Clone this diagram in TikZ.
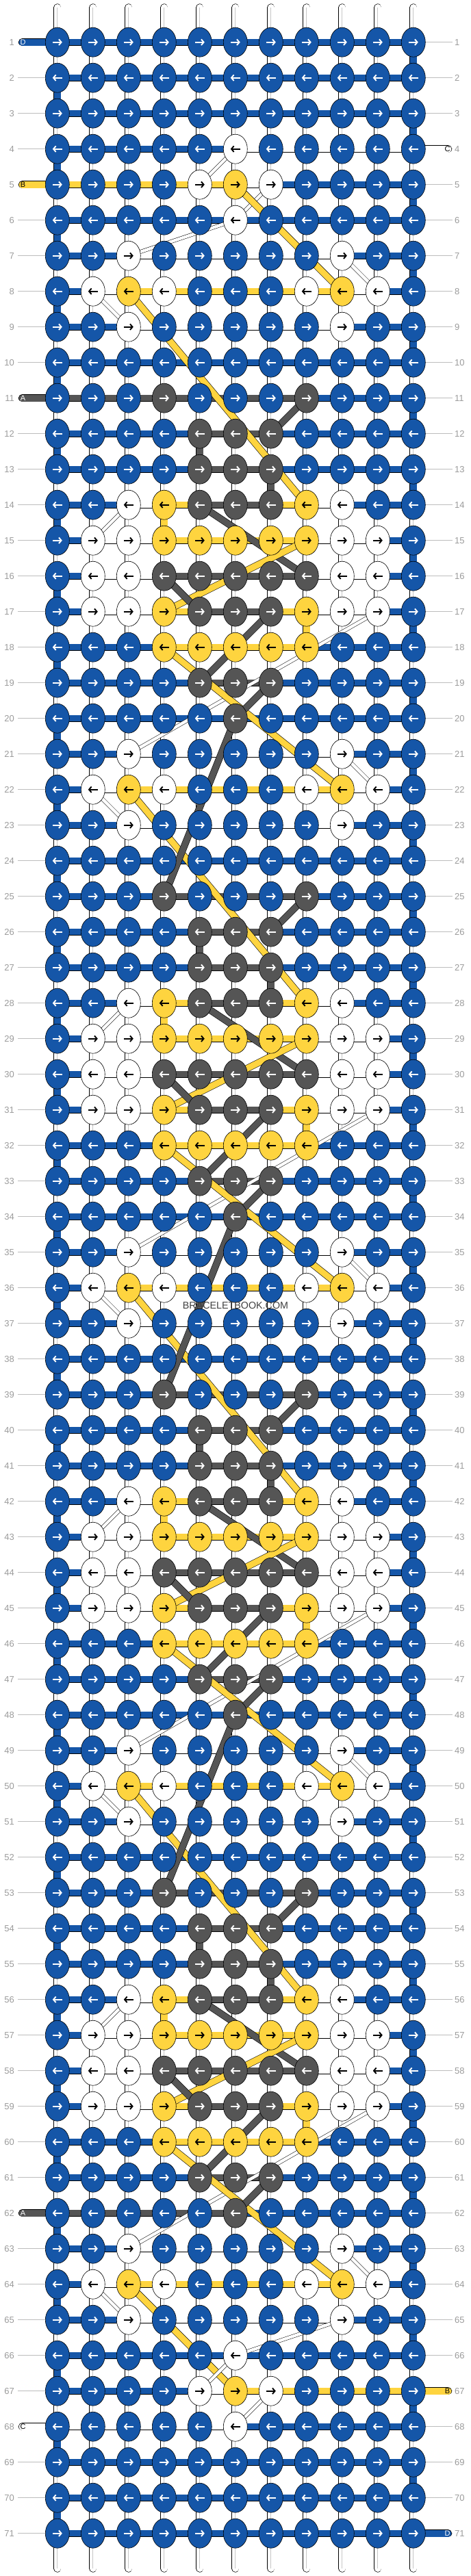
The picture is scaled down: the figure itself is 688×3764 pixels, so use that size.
\documentclass[tikz,border=0pt]{standalone}
\usepackage{fontspec}
\setmainfont{Liberation Sans}
\usetikzlibrary{shapes.geometric,arrows.meta}

\definecolor{colb}{HTML}{1556A8}
\definecolor{coly}{HTML}{FED43F}
\definecolor{colg}{HTML}{555555}
\definecolor{colw}{HTML}{FFFFFF}
\definecolor{arrb}{HTML}{FFFFFF}
\definecolor{arrg}{HTML}{FFFFFF}
\definecolor{arry}{HTML}{000000}
\definecolor{arrw}{HTML}{000000}
\definecolor{labgray}{HTML}{9B9B9B}
\definecolor{linegray}{HTML}{BDBDBD}
\definecolor{markgray}{HTML}{3E3E3E}

\def\krowA{b,b,b,b,b,b,b,b,b,b,b}
\def\krowB{b,b,b,b,b,w,b,b,b,b,b}
\def\krowC{b,b,b,b,w,y,w,b,b,b,b}
\def\krowD{b,b,w,b,b,b,b,b,w,b,b}
\def\krowE{b,w,y,w,b,b,b,w,y,w,b}
\def\krowF{b,b,b,g,b,b,b,g,b,b,b}
\def\krowG{b,b,b,b,g,g,g,b,b,b,b}
\def\krowH{b,b,w,y,g,g,g,y,w,b,b}
\def\krowI{b,w,w,y,y,y,y,y,w,w,b}
\def\krowJ{b,w,w,g,g,g,g,g,w,w,b}
\def\krowK{b,w,w,y,g,g,g,y,w,w,b}
\def\krowL{b,b,b,y,y,y,y,y,b,b,b}
\def\krowM{b,b,b,b,b,g,b,b,b,b,b}

\def\srowA{b,b,b,b,b,b,b,b,b,b}
\def\srowB{b,b,b,b,b,w,w,w,w,w}
\def\srowC{y,y,y,y,y,w,b,b,b,b}
\def\srowD{b,b,w,w,w,w,w,w,b,b}
\def\srowE{b,w,y,y,y,y,y,y,w,b}
\def\srowF{g,g,g,g,g,g,g,b,b,b}
\def\srowG{b,b,b,g,g,g,g,b,b,b}
\def\srowH{b,b,b,b,g,g,b,b,b,b}
\def\srowI{b,b,w,y,g,g,y,w,b,b}
\def\srowJ{b,w,w,y,y,y,y,w,w,b}
\def\srowK{b,w,w,g,g,g,g,w,w,b}
\def\srowL{b,w,w,y,g,g,y,w,w,b}
\def\srowM{b,b,b,y,y,y,y,b,b,b}
\def\srowN{g,g,g,g,g,b,b,b,b,b}
\def\srowO{b,b,b,b,w,y,y,y,y,y}
\def\srowP{w,w,w,w,w,b,b,b,b,b}

\def\rowtable{1/A/A,2/A/A,3/A/A,4/B/B,5/C/C,6/B/A,%
7/D/D,8/E/E,9/D/D,10/A/A,11/F/F,12/G/H,13/G/H,14/H/I,15/I/J,16/J/K,17/K/L,18/L/M,19/G/H,20/M/A,%
21/D/D,22/E/E,23/D/D,24/A/A,25/F/G,26/G/H,27/G/H,28/H/I,29/I/J,30/J/K,31/K/L,32/L/M,33/G/H,34/M/A,%
35/D/D,36/E/E,37/D/D,38/A/A,39/F/G,40/G/H,41/G/H,42/H/I,43/I/J,44/J/K,45/K/L,46/L/M,47/G/H,48/M/A,%
49/D/D,50/E/E,51/D/D,52/A/A,53/F/G,54/G/H,55/G/H,56/H/I,57/I/J,58/J/K,59/K/L,60/L/M,61/G/H,62/M/N,%
63/D/D,64/E/E,65/D/D,66/B/A,67/C/O,68/B/P,69/A/A,70/A/A,71/A/A}

\tikzset{
  knot/.style={ellipse, draw=black, line width=0.6pt, minimum width=35pt, minimum height=43pt, inner sep=0pt},
  karrow/.style={line width=1.9pt, -{Straight Barb[length=3.6pt,width=8.6pt]}},
  band/.style={draw=black, line width=0.6pt, double distance=9pt},
  vseg/.style={draw=black, line width=0.6pt, double=white, double distance=10pt},
  vmid/.style={draw=gray!45, line width=0.7pt},
  diag y/.style={band, double=coly},
  diag g/.style={band, double=colg},
  diag w/.style={draw=black, line width=0.5pt, double=white, double distance=4.5pt},
  tail/.style={band, double distance=10pt, line cap=round},
  tailtag/.style={font=\fontsize{11}{11}\selectfont, inner sep=0pt},
  rowlab/.style={text=labgray, font=\fontsize{13}{13}\selectfont, inner sep=0pt},
  labline/.style={draw=linegray, line width=1pt},
  sitemark/.style={text=markgray, font=\fontsize{14.3}{14.3}\selectfont, inner sep=0pt}
}

\begin{document}
\begin{tikzpicture}[x=1pt,y=-1pt]
\useasboundingbox (0,0) rectangle (688,3764);

\foreach \ri in {1,...,71}{
  \foreach \ci in {1,...,11}{
    \coordinate (p-\ri-\ci) at ({31.8+52*\ci},{9.7+52*\ri});
  }
}

\foreach \ri in {1,...,71}{
  \node[rowlab, anchor=east] (ll-\ri) at (21,{9.7+52*\ri}) {\ri};
  \node[rowlab, anchor=west] (rl-\ri) at (664,{9.7+52*\ri}) {\ri};
  \draw[labline] ([xshift=5pt]ll-\ri.east) -- (p-\ri-1);
  \draw[labline] (p-\ri-11) -- ([xshift=-3pt]rl-\ri.west);
}

\foreach \ci in {1,...,11}{
  \coordinate (top-\ci) at ({31.8+52*\ci},11);
  \coordinate (bot-\ci) at ({31.8+52*\ci},3753);
  \draw[vseg, line cap=round] (top-\ci) -- (p-1-\ci);
  \draw[vmid] (top-\ci) -- (p-1-\ci);
  \draw[vseg, line cap=round] (p-71-\ci) -- (bot-\ci);
  \draw[vmid] (p-71-\ci) -- (bot-\ci);
}

\foreach \ri in {1,...,70}{
  \pgfmathtruncatemacro\rn{\ri+1}
  \foreach \ci in {1,...,11}{
    \draw[vseg] (p-\ri-\ci) -- (p-\rn-\ci);
    \draw[vmid] (p-\ri-\ci) -- (p-\rn-\ci);
  }
  \ifodd\ri \def\ce{11}\else\def\ce{1}\fi
  \draw[band, double=colb, double distance=10pt] (p-\ri-\ce) -- (p-\rn-\ce);
}

\foreach \o in {0,14,28,42}{
  \foreach \ra/\ci/\cc in {12/5/g,13/7/g,14/4/y,17/8/y}{
    \pgfmathtruncatemacro\rA{\ra+\o}
    \pgfmathtruncatemacro\rB{\ra+\o+1}
    \draw[band, double=col\cc, double distance=10pt] (p-\rA-\ci) -- (p-\rB-\ci);
  }
}

\foreach \ri/\kt/\st in \rowtable{
  \edef\slist{\csname srow\st\endcsname}
  \foreach \sc [count=\ci] in \slist{
    \pgfmathtruncatemacro\cn{\ci+1}
    \draw[band, double=col\sc] (p-\ri-\ci) -- (p-\ri-\cn);
  }
}

\foreach \ri/\tc/\tg in {1/b/D,5/y/B,11/g/A,62/g/A,68/w/C}{
  \coordinate (tl-\ri) at (32.5,{9.7+52*\ri});
  \draw[tail, double=col\tc] (tl-\ri) -- (p-\ri-1);
  \node[tailtag, text=arr\tc] (tt-\ri) at ([xshift=1pt]tl-\ri) {\tg};
}
\foreach \ri/\tc/\tg in {4/w/C,67/y/B,71/b/D}{
  \coordinate (tr-\ri) at (654.5,{9.7+52*\ri});
  \draw[tail, double=col\tc] (p-\ri-11) -- (tr-\ri);
  \node[tailtag, text=arr\tc] (tt-\ri) at ([xshift=-1pt]tr-\ri) {\tg};
}

\foreach \ca/\ra/\cb/\rb/\dc in {6/4/5/5/w,7/5/6/6/w,6/6/3/7/w,6/5/9/8/y,
  9/63/10/64/w,2/64/3/65/w,3/64/6/67/y,9/65/6/66/w,6/66/5/67/w,7/67/6/68/w}{
  \draw[diag \dc] (p-\ra-\ca) -- (p-\rb-\cb);
}
\foreach \o in {0,14,28,42}{
  \foreach \ca/\ra/\cb/\rb/\dc in {9/7/10/8/w,2/8/3/9/w,3/8/8/14/y,8/11/7/12/g,
    5/14/8/16/g,3/14/2/15/w,8/15/4/17/y,4/16/5/17/g,7/17/5/19/g,
    10/17/3/21/w,4/18/9/22/y,7/19/6/20/g}{
    \pgfmathtruncatemacro\rA{\ra+\o}
    \pgfmathtruncatemacro\rB{\rb+\o}
    \draw[diag \dc] (p-\rA-\ca) -- (p-\rB-\cb);
  }
}
\foreach \o in {0,14,28}{
  \pgfmathtruncatemacro\rA{20+\o}
  \pgfmathtruncatemacro\rB{25+\o}
  \draw[diag g] (p-\rA-6) -- (p-\rB-4);
}

\foreach \ri/\kt/\st in \rowtable{
  \edef\klist{\csname krow\kt\endcsname}
  \ifodd\ri \def\xa{-7}\def\xb{7}\else\def\xa{7}\def\xb{-7}\fi
  \foreach \kc [count=\ci] in \klist{
    \node[knot, fill=col\kc] (k-\ri-\ci) at (p-\ri-\ci) {};
    \draw[karrow, draw=arr\kc] ([xshift=\xa pt]k-\ri-\ci.center) -- ([xshift=\xb pt]k-\ri-\ci.center);
  }
}

\node[sitemark] (wm) at (344,1907.7) {BRACELETBOOK.COM};
\end{tikzpicture}
\end{document}
